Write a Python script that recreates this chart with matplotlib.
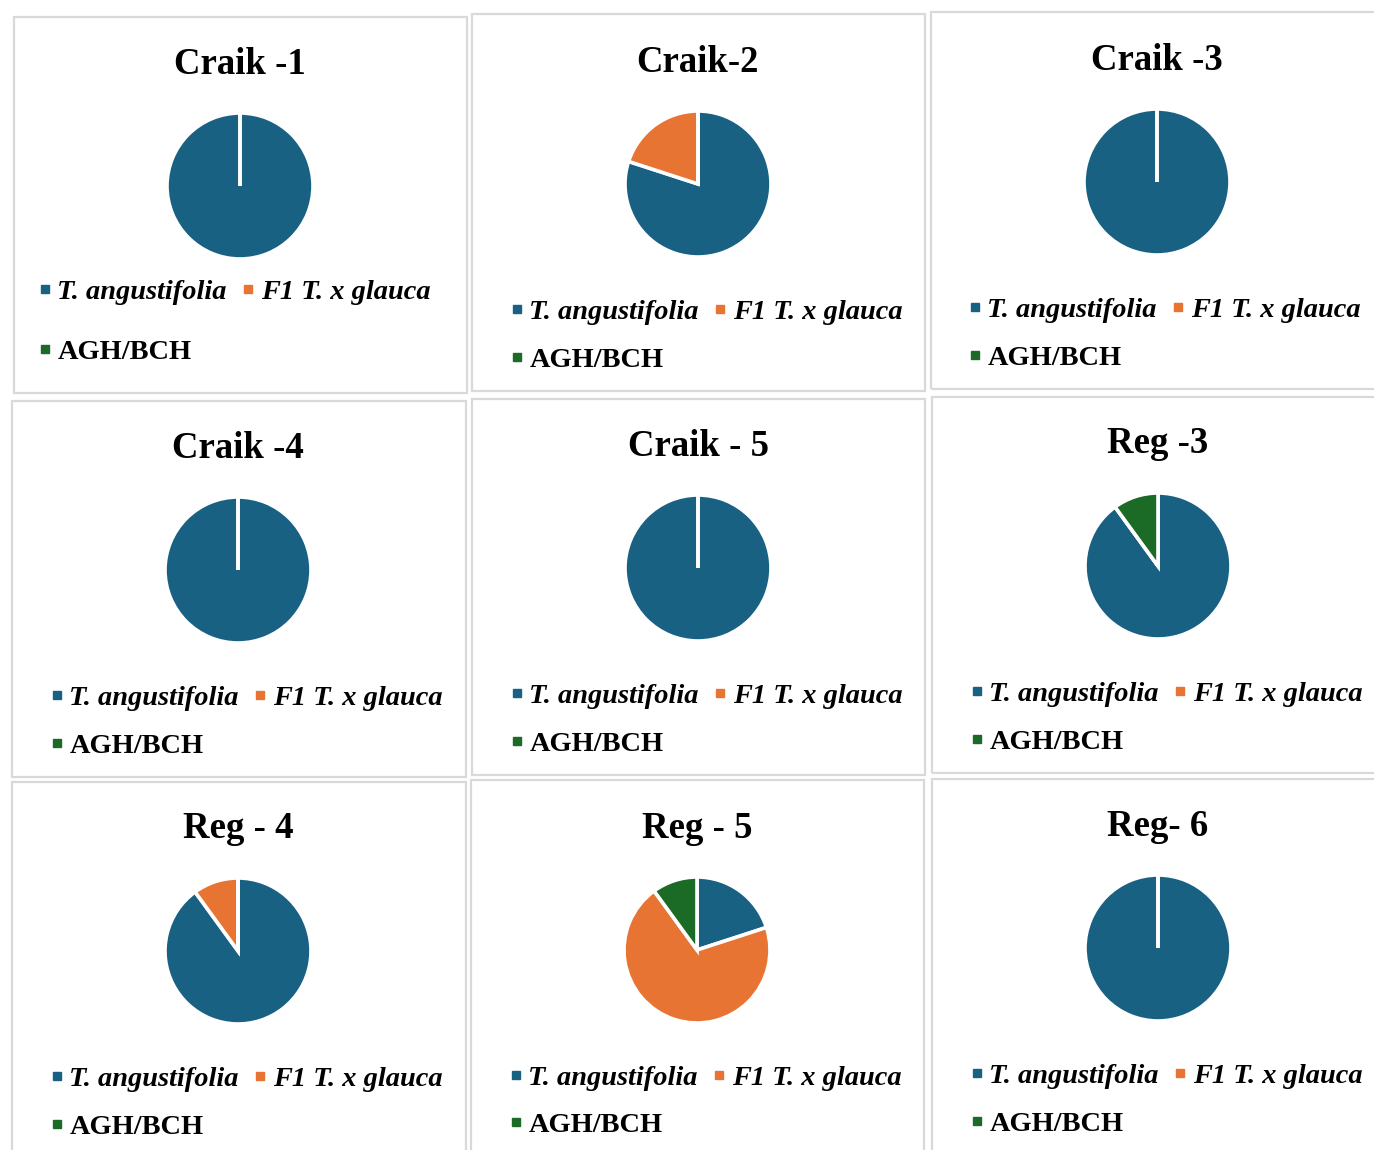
import matplotlib.pyplot as plt
from matplotlib.lines import Line2D
from matplotlib.patches import Rectangle

# species groups and their share (%) at each site
categories = ["T. angustifolia", "F1 T. x glauca", "AGH/BCH"]
colors = ["#196183", "#E87433", "#1B6B26"]
sites = ["Craik -1", "Craik-2", "Craik -3",
         "Craik -4", "Craik - 5", "Reg -3",
         "Reg - 4", "Reg - 5", "Reg- 6"]
angustifolia = [100, 80, 100, 100, 100, 90, 90, 20, 100]
f1_glauca = [0, 20, 0, 0, 0, 0, 10, 70, 0]
agh_bch = [0, 0, 0, 0, 0, 10, 0, 10, 0]

W, H = 1374, 1150
plt.rcParams['font.family'] = ['Liberation Serif', 'DejaVu Serif']
plt.rcParams['font.weight'] = 'bold'

fig = plt.figure(figsize=(W / 100, H / 100), dpi=100)

# panel boxes (x0, y0, x1, y1), pie centre, title y, legend (marker x, row1 y, row gap)
boxes = [(14, 17, 467, 393), (472, 14, 925, 391), (931, 12, 1380, 389),
         (12, 401, 466, 777), (472, 399, 925, 775), (932, 397, 1380, 773),
         (12, 782, 466, 1156), (471, 780, 924, 1156), (932, 779, 1380, 1156)]
centres = [(240, 186), (698, 184), (1157, 182),
           (238, 570), (698, 568), (1158, 566),
           (238, 951), (697, 950), (1158, 948)]
title_y = [60, 58, 56, 444, 442, 440, 825, 824, 822]
legends = [(41, 290, 59), (513, 310, 47), (971, 308, 47),
           (53, 696, 47), (513, 694, 47), (973, 692, 47),
           (53, 1077, 47), (512, 1076, 46), (973, 1074, 47)]

R = 73  # pie radius in pixels
FS = 20.4  # legend font size

def fx(x):
    return x / W

def fy(y):
    return 1 - y / H

for i, site in enumerate(sites):
    x0, y0, x1, y1 = boxes[i]
    fig.patches.append(Rectangle((fx(x0), fy(y1)), (x1 - x0) / W, (y1 - y0) / H,
                                 transform=fig.transFigure, fill=False,
                                 edgecolor="#D9D9D9", linewidth=1.6))

    cx, cy = centres[i]
    ax = fig.add_axes([fx(cx - R), fy(cy + R), 2 * R / W, 2 * R / H])
    vals = [angustifolia[i], f1_glauca[i], agh_bch[i]]
    ax.pie(vals, colors=colors, startangle=90, counterclock=False, radius=1.0,
           wedgeprops=dict(edgecolor="white", linewidth=2.6))
    ax.set_xlim(-1.0, 1.0)
    ax.set_ylim(-1.0, 1.0)
    ax.axis("off")

    fig.text(fx(cx), fy(title_y[i] + 4), site, ha="center", va="center",
             fontsize=26.5, fontweight="bold")

    lx, ly, gap = legends[i]
    handles = [Line2D([], [], marker="s", linestyle="none", markersize=6,
                      color=c) for c in colors]
    order = [0, 2, 1]
    fs_px = FS * 100 / 72
    leg = ax.legend([handles[k] for k in order], [categories[k] for k in order],
                    loc="upper left", bbox_to_anchor=(fx(lx - 2), fy(ly - 11)),
                    bbox_transform=fig.transFigure, ncol=2, frameon=False,
                    borderpad=0, borderaxespad=0, handlelength=0.4,
                    handletextpad=0.25, columnspacing=0.55,
                    labelspacing=(gap - 25) / fs_px, prop=dict(size=FS, weight="bold"))
    for k, t in zip(order, leg.get_texts()):
        if k in (0, 1):
            t.set_fontstyle("italic")

fig.savefig("out.png", dpi=100)
